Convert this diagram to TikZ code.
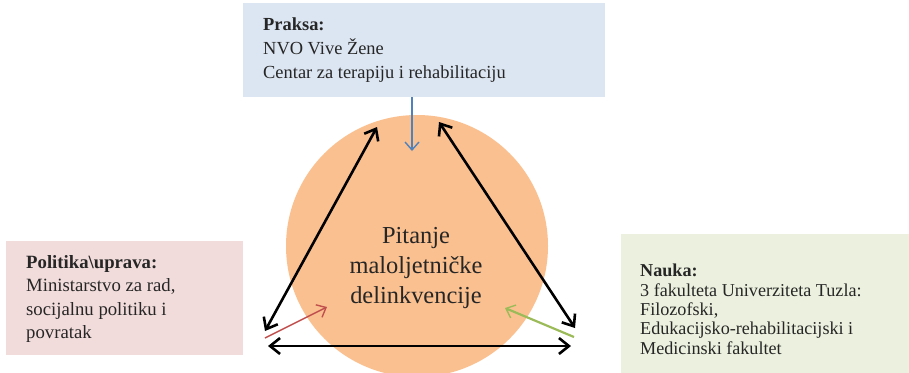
\documentclass[tikz,border=0pt]{standalone}
\usepackage{fontspec}
\setmainfont{Liberation Serif}
\usetikzlibrary{arrows.meta}
\definecolor{boxblue}{HTML}{DCE6F2}
\definecolor{boxpink}{HTML}{F2DCDB}
\definecolor{boxgreen}{HTML}{EBF1DE}
\definecolor{circ}{HTML}{FAC090}
\definecolor{arrblue}{HTML}{4F81BD}
\definecolor{arrred}{HTML}{C0504D}
\definecolor{arrgreen}{HTML}{9BBB59}
\definecolor{txt}{HTML}{262626}
\tikzset{
  box/.style={fill=#1, draw=none, inner sep=0pt, anchor=north west},
  boxtext/.style={anchor=north west, inner sep=0pt, align=left, text=txt},
  blk/.style={line width=2.6pt, black, {Straight Barb[length=10pt,width=16pt,line width=2.6pt]}-{Straight Barb[length=10pt,width=16pt,line width=2.6pt]}},
  thin/.style={line width=1.4pt, -{Straight Barb[length=8pt,width=14pt,line width=1.4pt]}}
}
\begin{document}
\begin{tikzpicture}[x=1bp,y=-1bp]
\useasboundingbox (0,0) rectangle (909,372);
\clip (0,0) rectangle (909,372);
% circle
\node[circle, fill=circ, minimum size=262bp, inner sep=0pt] (c) at (417,246) {};
\node[text=txt, align=center, font=\fontsize{24.5}{30}\selectfont] (ct) at (416,268) {Pitanje\\maloljetničke\\delinkvencije};
% boxes
\node[box=boxblue, minimum width=362bp, minimum height=94bp] (praksa) at (243,3) {};
\node[boxtext, font=\fontsize{18.5}{24}\selectfont] (praksat) at (263,18) {\textbf{Praksa:}\\NVO Vive Žene\\Centar za terapiju i rehabilitaciju};
\node[box=boxpink, minimum width=237bp, minimum height=114bp] (pol) at (6,241) {};
\node[boxtext, font=\fontsize{18.8}{23.5}\selectfont] (polt) at (26,255) {\textbf{Politika\textbackslash uprava:}\\Ministarstvo za rad,\\socijalnu politiku i\\povratak};
\node[box=boxgreen, minimum width=288bp, minimum height=140bp] (nauka) at (621,234) {};
\node[boxtext, font=\fontsize{18.2}{19.4}\selectfont] (naukat) at (640,264) {\textbf{Nauka:}\\3 fakulteta Univerziteta Tuzla:\\Filozofski,\\Edukacijsko-rehabilitacijski i\\Medicinski fakultet};
% coordinates
\coordinate (tl) at (377,127);
\coordinate (bl) at (265,331);
\coordinate (tr) at (439,122);
\coordinate (br) at (575,328);
\coordinate (bbl) at (268,346);
\coordinate (bbr) at (571,346);
\coordinate (bs) at (412,97);
\coordinate (be) at (412,151);
\coordinate (rs) at (265,338);
\coordinate (re) at (327,307);
\coordinate (gs) at (574,337);
\coordinate (ge) at (505,308);
% arrows
\draw[blk] (bl) -- (tl);
\draw[blk] (tr) -- (br);
\draw[blk] (bbl) -- (bbr);
\draw[thin, arrblue] (bs) -- (be);
\draw[thin, arrred] (rs) -- (re);
\draw[thin, arrgreen, line width=2.2pt] (gs) -- (ge);
\end{tikzpicture}
\end{document}
